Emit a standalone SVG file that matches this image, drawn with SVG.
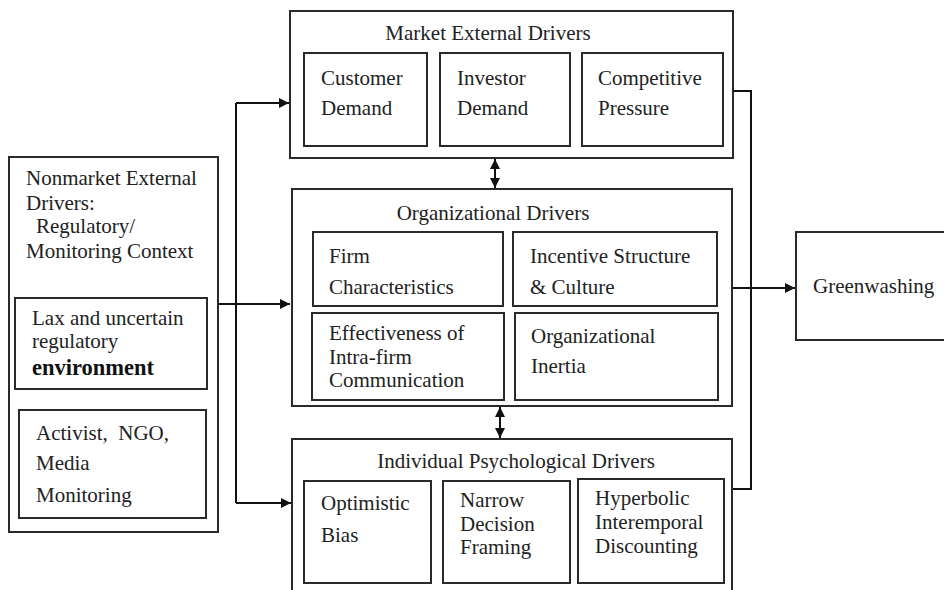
<svg xmlns="http://www.w3.org/2000/svg" width="944" height="590" viewBox="0 0 944 590">
  <defs>
    <marker id="head" viewBox="0 0 10 10" refX="10" refY="5" markerWidth="10" markerHeight="10" markerUnits="userSpaceOnUse" orient="auto">
      <path d="M0,0 L10,5 L0,10 z" fill="#111"/>
    </marker>
    <marker id="tail" viewBox="0 0 10 10" refX="0" refY="5" markerWidth="10" markerHeight="10" markerUnits="userSpaceOnUse" orient="auto">
      <path d="M10,0 L0,5 L10,10 z" fill="#111"/>
    </marker>
  </defs>
  <style>
    .box { fill: none; stroke: #2a2a2a; stroke-width: 2; }
    .t { font-size: 21px; fill: #222; }
    .title { text-anchor: middle; }
    .conn { fill: none; stroke: #111; stroke-width: 2; }
  </style>
  <rect width="944" height="590" fill="#fff"/>

  <!-- left: nonmarket external drivers -->
  <g id="nonmarket">
    <rect class="box" x="9" y="157" width="209" height="375"/>
    <text class="t" style="font-family:'Liberation Serif',serif !important" x="26" y="185">Nonmarket External</text>
    <text class="t" style="font-family:'Liberation Serif',serif !important" x="26" y="210">Drivers:</text>
    <text class="t" style="font-family:'Liberation Serif',serif !important" x="36" y="233">Regulatory/</text>
    <text class="t" style="font-family:'Liberation Serif',serif !important" x="26" y="258">Monitoring Context</text>
  </g>
  <g id="lax-regulation">
    <rect class="box" x="15" y="298" width="192" height="91"/>
    <text class="t" style="font-family:'Liberation Serif',serif !important" x="32" y="325">Lax and uncertain</text>
    <text class="t" style="font-family:'Liberation Serif',serif !important" x="32" y="348">regulatory</text>
    <text class="t" style="font-family:'Liberation Serif',serif !important;font-size:22.5px;font-weight:bold;fill:#111" x="32" y="375">environment</text>
  </g>
  <g id="activist-monitoring">
    <rect class="box" x="19" y="410" width="187" height="108"/>
    <text class="t" style="font-family:'Liberation Serif',serif !important" x="36" y="440">Activist,&#160; NGO,</text>
    <text class="t" style="font-family:'Liberation Serif',serif !important" x="36" y="470">Media</text>
    <text class="t" style="font-family:'Liberation Serif',serif !important" x="36" y="502">Monitoring</text>
  </g>

  <!-- market external drivers -->
  <g id="market">
    <rect class="box" x="290" y="11" width="443" height="147"/>
    <text class="t title" style="font-family:'Liberation Serif',serif !important" x="488" y="40">Market External Drivers</text>
  </g>
  <g id="customer-demand">
    <rect class="box" x="304" y="53" width="123" height="93"/>
    <text class="t" style="font-family:'Liberation Serif',serif !important" x="321" y="85">Customer</text>
    <text class="t" style="font-family:'Liberation Serif',serif !important" x="321" y="115">Demand</text>
  </g>
  <g id="investor-demand">
    <rect class="box" x="440" y="53" width="130" height="93"/>
    <text class="t" style="font-family:'Liberation Serif',serif !important" x="457" y="85">Investor</text>
    <text class="t" style="font-family:'Liberation Serif',serif !important" x="457" y="115">Demand</text>
  </g>
  <g id="competitive-pressure">
    <rect class="box" x="582" y="53" width="141" height="93"/>
    <text class="t" style="font-family:'Liberation Serif',serif !important" x="598" y="85">Competitive</text>
    <text class="t" style="font-family:'Liberation Serif',serif !important" x="598" y="115">Pressure</text>
  </g>

  <!-- organizational drivers -->
  <g id="organizational">
    <rect class="box" x="292" y="189" width="440" height="217"/>
    <text class="t title" style="font-family:'Liberation Serif',serif !important" x="493" y="220">Organizational Drivers</text>
  </g>
  <g id="firm-characteristics">
    <rect class="box" x="313" y="232" width="190" height="74"/>
    <text class="t" style="font-family:'Liberation Serif',serif !important" x="329" y="263">Firm</text>
    <text class="t" style="font-family:'Liberation Serif',serif !important" x="329" y="294">Characteristics</text>
  </g>
  <g id="incentive-structure">
    <rect class="box" x="513" y="232" width="204" height="74"/>
    <text class="t" style="font-family:'Liberation Serif',serif !important" x="530" y="263">Incentive Structure</text>
    <text class="t" style="font-family:'Liberation Serif',serif !important" x="530" y="294">&amp; Culture</text>
  </g>
  <g id="intra-firm-communication">
    <rect class="box" x="312" y="313" width="192" height="87"/>
    <text class="t" style="font-family:'Liberation Serif',serif !important" x="329" y="340">Effectiveness of</text>
    <text class="t" style="font-family:'Liberation Serif',serif !important" x="329" y="364">Intra-firm</text>
    <text class="t" style="font-family:'Liberation Serif',serif !important" x="329" y="387">Communication</text>
  </g>
  <g id="organizational-inertia">
    <rect class="box" x="515" y="313" width="203" height="87"/>
    <text class="t" style="font-family:'Liberation Serif',serif !important" x="531" y="343">Organizational</text>
    <text class="t" style="font-family:'Liberation Serif',serif !important" x="531" y="373">Inertia</text>
  </g>

  <!-- individual psychological drivers -->
  <g id="individual">
    <rect class="box" x="292" y="439" width="440" height="160"/>
    <text class="t title" style="font-family:'Liberation Serif',serif !important" x="516" y="468">Individual Psychological Drivers</text>
  </g>
  <g id="optimistic-bias">
    <rect class="box" x="304" y="481" width="127" height="102"/>
    <text class="t" style="font-family:'Liberation Serif',serif !important" x="321" y="510">Optimistic</text>
    <text class="t" style="font-family:'Liberation Serif',serif !important" x="321" y="542">Bias</text>
  </g>
  <g id="narrow-framing">
    <rect class="box" x="443" y="481" width="127" height="102"/>
    <text class="t" style="font-family:'Liberation Serif',serif !important" x="460" y="507">Narrow</text>
    <text class="t" style="font-family:'Liberation Serif',serif !important" x="460" y="531">Decision</text>
    <text class="t" style="font-family:'Liberation Serif',serif !important" x="460" y="554">Framing</text>
  </g>
  <g id="hyperbolic-discounting">
    <rect class="box" x="578" y="479" width="146" height="104"/>
    <text class="t" style="font-family:'Liberation Serif',serif !important" x="595" y="505">Hyperbolic</text>
    <text class="t" style="font-family:'Liberation Serif',serif !important" x="595" y="529">Interemporal</text>
    <text class="t" style="font-family:'Liberation Serif',serif !important" x="595" y="553">Discounting</text>
  </g>

  <!-- outcome -->
  <g id="greenwashing">
    <rect class="box" x="796" y="232" width="160" height="108"/>
    <text class="t" style="font-family:'Liberation Serif',serif !important" x="813" y="293">Greenwashing</text>
  </g>

  <!-- connectors -->
  <g id="connectors">
    <path class="conn" d="M218,304 H290" marker-end="url(#head)"/>
    <path class="conn" d="M236,103 V503"/>
    <path class="conn" d="M236,103 H289" marker-end="url(#head)"/>
    <path class="conn" d="M236,503 H291" marker-end="url(#head)"/>
    <path class="conn" d="M495,159 V188" marker-start="url(#tail)" marker-end="url(#head)"/>
    <path class="conn" d="M500,407 V438" marker-start="url(#tail)" marker-end="url(#head)"/>
    <path class="conn" d="M733,91 H751 V489 H733"/>
    <path class="conn" d="M733,288 H795" marker-end="url(#head)"/>
  </g>
</svg>
